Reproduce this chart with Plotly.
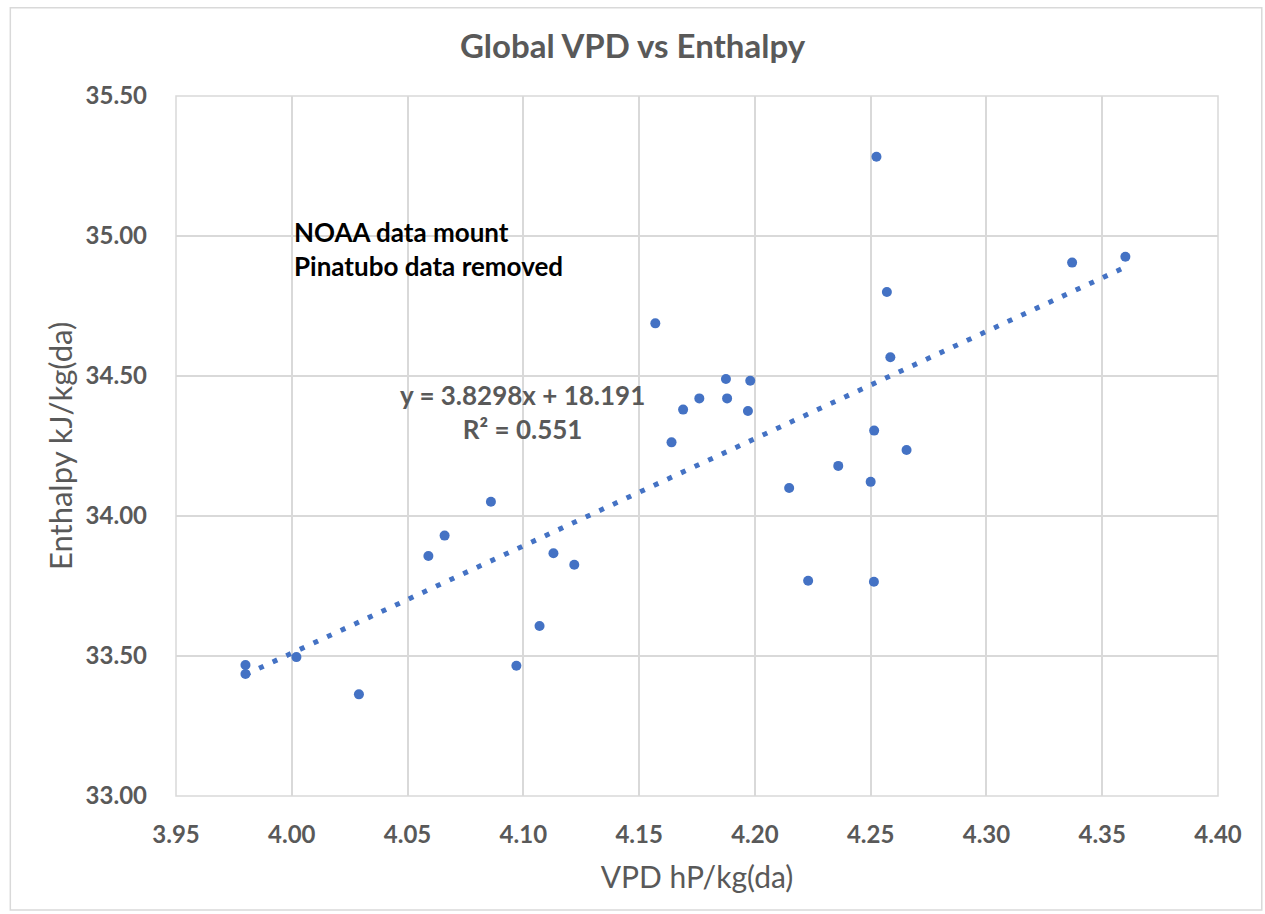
import plotly.graph_objects as go

vpd = [3.980, 3.980, 4.002, 4.029, 4.059, 4.066, 4.086, 4.097, 4.107, 4.113, 4.122,
       4.157, 4.164, 4.169, 4.176, 4.1875, 4.188, 4.197, 4.198, 4.2148, 4.223,
       4.236, 4.250, 4.2515, 4.2514, 4.2525, 4.257, 4.2585, 4.2655, 4.337, 4.360]
enthalpy = [33.468, 33.436, 33.496, 33.363, 33.857, 33.930, 34.051, 33.465, 33.607, 33.867, 33.826,
            34.688, 34.263, 34.380, 34.420, 34.489, 34.420, 34.375, 34.483, 34.100, 33.769,
            34.179, 34.122, 34.305, 33.765, 35.283, 34.800, 34.567, 34.236, 34.905, 34.926]

slope = 3.8298
intercept = 18.191
r2 = 0.551

x_ticks = [3.95, 4.00, 4.05, 4.10, 4.15, 4.20, 4.25, 4.30, 4.35, 4.40]
y_ticks = [33.00, 33.50, 34.00, 34.50, 35.00, 35.50]

FONT = "Lato, 'Open Sans', sans-serif"
GRAY = "#595959"
BLUE = "#4472C4"

xmin, xmax = min(vpd), max(vpd)
trend_x = [xmin, xmax]
trend_y = [slope * v + intercept for v in trend_x]

fig = go.Figure()
fig.add_trace(go.Scatter(x=trend_x, y=trend_y, mode="lines",
                         line=dict(color=BLUE, width=5, dash="5px,10px"),
                         hoverinfo="skip", showlegend=False))
fig.add_trace(go.Scatter(x=vpd, y=enthalpy, mode="markers",
                         marker=dict(color=BLUE, size=10),
                         showlegend=False))

fig.update_layout(
    width=1265, height=914,
    margin=dict(l=176, r=47, t=96, b=118),
    paper_bgcolor="white", plot_bgcolor="white",
    title=dict(text="<b>Global VPD vs Enthalpy</b>", x=0.5, xref="container",
               y=1 - 46 / 914, yanchor="middle",
               font=dict(family=FONT, size=33, color=GRAY)),
    xaxis=dict(range=[3.95, 4.40], tickvals=x_ticks,
               ticktext=[f"<b>{v:.2f}</b>" for v in x_ticks],
               showgrid=True, gridcolor="#D9D9D9", gridwidth=1.5,
               zeroline=False, showline=False, ticks="",
               tickfont=dict(family=FONT, size=24, color=GRAY),
               ticklabelstandoff=22,
               title=dict(text="VPD hP/kg(da)", standoff=19,
                          font=dict(family=FONT, size=30, color=GRAY))),
    yaxis=dict(range=[33.0, 35.5], tickvals=y_ticks,
               ticktext=[f"<b>{v:.2f}</b>" for v in y_ticks],
               showgrid=True, gridcolor="#D9D9D9", gridwidth=1.5,
               zeroline=False, showline=False, ticks="",
               tickfont=dict(family=FONT, size=24, color=GRAY),
               ticklabelstandoff=28),
    annotations=[
        dict(text="Enthalpy kJ/kg(da)", x=(60 - 176) / 1042, y=0.5,
             xref="paper", yref="paper", xanchor="center", yanchor="middle",
             textangle=-90, showarrow=False,
             font=dict(family=FONT, size=31, color=GRAY)),
        dict(text="<b>NOAA data mount<br>Pinatubo data removed</b>", x=4.0, y=34.955,
             xref="x", yref="y", xanchor="left", yanchor="middle", align="left",
             showarrow=False, font=dict(family=FONT, size=26, color="#000000")),
        dict(text=f"<b>y = {slope}x + {intercept}<br>R² = {r2}</b>", x=4.0995, y=34.37,
             xref="x", yref="y", xanchor="center", yanchor="middle", align="center",
             showarrow=False, font=dict(family=FONT, size=26, color=GRAY)),
    ],
    shapes=[
        dict(type="rect", xref="paper", yref="paper",
             x0=-0.159, x1=1.042, y0=-0.163, y1=1.126,
             line=dict(color="#D9D9D9", width=1.5), fillcolor="rgba(0,0,0,0)"),
        dict(type="rect", xref="paper", yref="paper", x0=0, x1=1, y0=0, y1=1,
             line=dict(color="#D9D9D9", width=1.5), fillcolor="rgba(0,0,0,0)", layer="below"),
    ],
)

fig.write_html("out.html")
